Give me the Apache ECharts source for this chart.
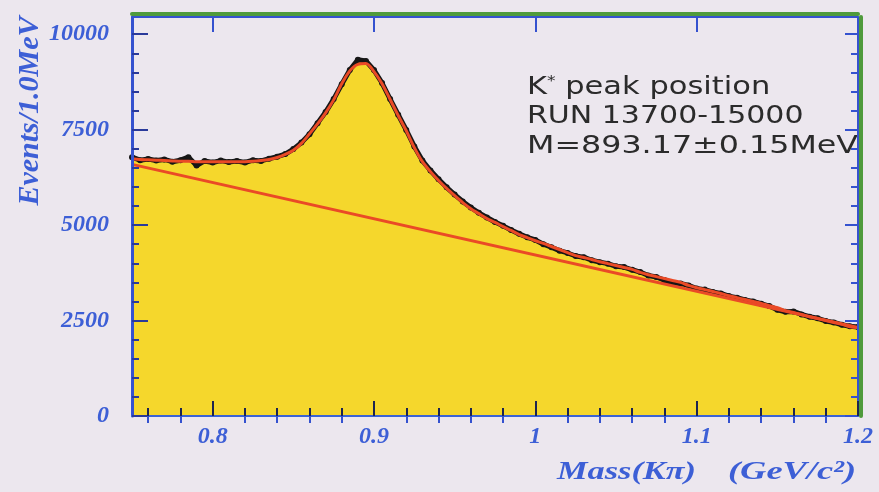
<!DOCTYPE html>
<html>
<head>
<meta charset="utf-8">
<script src="https://cdn.jsdelivr.net/npm/echarts@6/dist/echarts.min.js"></script>
<style>
  html, body { margin: 0; padding: 0; background: #ece7ee; }
  #chart { width: 879px; height: 492px; }
</style>
</head>
<body>
<div id="chart"></div>
<script>
// K pi invariant mass spectrum, 5 MeV sampling of the 1 MeV histogram (GeV/c^2)
const massBins = [
  0.750, 0.755, 0.760, 0.765, 0.770, 0.775, 0.780, 0.785, 0.790, 0.795,
  0.800, 0.805, 0.810, 0.815, 0.820, 0.825, 0.830, 0.835, 0.840, 0.845,
  0.850, 0.855, 0.860, 0.865, 0.870, 0.875, 0.880, 0.885, 0.890, 0.895,
  0.900, 0.905, 0.910, 0.915, 0.920, 0.925, 0.930, 0.935, 0.940, 0.945,
  0.950, 0.955, 0.960, 0.965, 0.970, 0.975, 0.980, 0.985, 0.990, 0.995,
  1.000, 1.005, 1.010, 1.015, 1.020, 1.025, 1.030, 1.035, 1.040, 1.045,
  1.050, 1.055, 1.060, 1.065, 1.070, 1.075, 1.080, 1.085, 1.090, 1.095,
  1.100, 1.105, 1.110, 1.115, 1.120, 1.125, 1.130, 1.135, 1.140, 1.145,
  1.150, 1.155, 1.160, 1.165, 1.170, 1.175, 1.180, 1.185, 1.190, 1.195,
  1.200
];

// Events per 1.0 MeV
const eventCounts = [
  6780, 6700, 6730, 6690, 6720, 6660, 6700, 6780, 6560, 6680,
  6640, 6690, 6650, 6680, 6640, 6700, 6680, 6740, 6790, 6860,
  6990, 7160, 7380, 7670, 7960, 8300, 8690, 9060, 9330, 9300,
  9060, 8720, 8300, 7890, 7490, 7060, 6690, 6430, 6200, 5990,
  5800, 5620, 5460, 5320, 5200, 5080, 4980, 4870, 4770, 4680,
  4610, 4500, 4420, 4330, 4270, 4190, 4160, 4080, 4030, 3990,
  3920, 3900, 3830, 3770, 3680, 3640, 3560, 3480, 3470, 3420,
  3340, 3310, 3250, 3210, 3140, 3100, 3040, 3000, 2940, 2880,
  2780, 2730, 2740, 2660, 2600, 2560, 2490, 2450, 2390, 2350,
  2330
];

// Total fit (resonance + linear background)
const fitTotal = [
  6740, 6720, 6710, 6700, 6690, 6680, 6670, 6670, 6660, 6660,
  6660, 6660, 6660, 6660, 6660, 6670, 6690, 6720, 6770, 6850,
  6960, 7140, 7390, 7650, 7940, 8280, 8700, 9040, 9210, 9230,
  9020, 8700, 8290, 7870, 7470, 7030, 6660, 6400, 6170, 5960,
  5770, 5590, 5430, 5300, 5170, 5070, 4960, 4860, 4750, 4670,
  4590, 4520, 4440, 4360, 4280, 4200, 4150, 4100, 4040, 3990,
  3940, 3890, 3840, 3760, 3700, 3650, 3600, 3550, 3500, 3420,
  3360, 3310, 3260, 3210, 3150, 3100, 3050, 3000, 2950, 2890,
  2840, 2760, 2710, 2660, 2600, 2550, 2500, 2450, 2400, 2340,
  2320
];

// Linear background of the fit, at the ends of the mass window
const bgMass = [0.75, 1.2];
const bgCounts = [6590, 2320];

// Axis ticks and labels
const xMajorTicks = [0.8, 0.9, 1.0, 1.1, 1.2];
const xMinorTicks = [0.76, 0.78, 0.82, 0.84, 0.86, 0.88, 0.92, 0.94, 0.96, 0.98,
                     1.02, 1.04, 1.06, 1.08, 1.12, 1.14, 1.16, 1.18];
const xTickLabels = ['0.8', '0.9', '1', '1.1', '1.2'];
const yMajorTicks = [0, 2500, 5000, 7500, 10000];
const yMinorTicks = [500, 1000, 1500, 2000, 3000, 3500, 4000, 4500, 5500, 6000,
                     6500, 7000, 8000, 8500, 9000, 9500];
const yTickLabels = ['0', '2500', '5000', '7500', '10000'];

const xRange = [0.75, 1.2];
const yRange = [0, 10450];

const BLUE_TEXT = '#3d5fd6';
const AXIS_BLUE = '#3552cf';
const FRAME_GREEN = '#4f9a3c';
const TICK_DARK = '#1d2550';
const labelFont = { fontFamily: 'Liberation Serif', fontStyle: 'italic', fontWeight: 'bold', fontSize: 24, color: BLUE_TEXT };

const pairs = (xs, ys) => xs.map((x, i) => [x, ys[i]]);

function xAxisDef(opts) {
  return Object.assign({
    type: 'value', min: xRange[0], max: xRange[1], gridIndex: 0, z: 10,
    splitLine: { show: false },
    axisLine: { show: false },
    axisTick: { show: false },
    axisLabel: { show: false }
  }, opts);
}
function yAxisDef(opts) {
  return Object.assign({
    type: 'value', min: yRange[0], max: yRange[1], gridIndex: 0, z: 10,
    splitLine: { show: false },
    axisLine: { show: false },
    axisTick: { show: false },
    axisLabel: { show: false }
  }, opts);
}

const chart = echarts.init(document.getElementById('chart'), null, { renderer: 'canvas' });

const option = {
  animation: false,
  backgroundColor: '#ece7ee',
  grid: { left: 132, right: 21, top: 17, bottom: 76, containLabel: false },
  xAxis: [
    // bottom axis with labels and major ticks
    xAxisDef({
      position: 'bottom',
      axisLine: { show: true, onZero: false, lineStyle: { color: '#3b63d3', width: 2 } },
      axisTick: { show: true, inside: true, length: 15, customValues: xMajorTicks, lineStyle: { color: TICK_DARK, width: 2 } },
      axisLabel: {
        show: true, margin: 9, customValues: xMajorTicks,
        formatter: v => xTickLabels[xMajorTicks.findIndex(t => Math.abs(t - v) < 1e-9)],
        ...labelFont
      }
    }),
    // bottom minor ticks
    xAxisDef({
      position: 'bottom',
      axisTick: { show: true, inside: true, length: 8, customValues: xMinorTicks, lineStyle: { color: TICK_DARK, width: 2 } }
    }),
    // top mirror axis
    xAxisDef({
      position: 'top',
      axisLine: { show: true, onZero: false, lineStyle: { color: AXIS_BLUE, width: 2 } },
      axisTick: { show: true, inside: true, length: 15, customValues: xMajorTicks, lineStyle: { color: AXIS_BLUE, width: 2 } }
    }),
    xAxisDef({
      position: 'top',
      axisTick: { show: true, inside: true, length: 7, customValues: xMinorTicks, lineStyle: { color: AXIS_BLUE, width: 2 } }
    }),
    // green frame edge above the top axis
    xAxisDef({
      position: 'top', offset: 3,
      axisLine: { show: true, onZero: false, lineStyle: { color: FRAME_GREEN, width: 4 } }
    })
  ],
  yAxis: [
    // left axis with labels and major ticks
    yAxisDef({
      position: 'left',
      axisLine: { show: true, onZero: false, lineStyle: { color: AXIS_BLUE, width: 3 } },
      axisTick: { show: true, inside: true, length: 16, customValues: yMajorTicks, lineStyle: { color: '#2a3a9a', width: 2 } },
      axisLabel: {
        show: true, margin: 23, customValues: yMajorTicks,
        formatter: v => yTickLabels[yMajorTicks.indexOf(v)],
        ...labelFont
      }
    }),
    yAxisDef({
      position: 'left',
      axisTick: { show: true, inside: true, length: 7, customValues: yMinorTicks, lineStyle: { color: '#2a3a9a', width: 2 } }
    }),
    // right mirror axis
    yAxisDef({
      position: 'right',
      axisLine: { show: true, onZero: false, lineStyle: { color: AXIS_BLUE, width: 2 } },
      axisTick: { show: true, inside: true, length: 13, customValues: yMajorTicks, lineStyle: { color: AXIS_BLUE, width: 2 } }
    }),
    yAxisDef({
      position: 'right',
      axisTick: { show: true, inside: true, length: 7, customValues: yMinorTicks, lineStyle: { color: AXIS_BLUE, width: 2 } }
    }),
    // green frame edge right of the right axis
    yAxisDef({
      position: 'right', offset: 3,
      axisLine: { show: true, onZero: false, lineStyle: { color: FRAME_GREEN, width: 4 } }
    })
  ],
  series: [
    {
      name: 'data',
      type: 'line',
      xAxisIndex: 0, yAxisIndex: 0,
      data: pairs(massBins, eventCounts),
      symbol: 'circle', symbolSize: 6, showSymbol: true,
      itemStyle: { color: '#161616' },
      lineStyle: { color: '#161616', width: 5 },
      areaStyle: { color: '#f5d72c', opacity: 1, origin: 'start' },
      z: 2
    },
    {
      name: 'background',
      type: 'line',
      xAxisIndex: 0, yAxisIndex: 0,
      data: pairs(bgMass, bgCounts),
      symbol: 'none',
      lineStyle: { color: '#ea4a26', width: 3 },
      z: 3
    },
    {
      name: 'fit',
      type: 'line',
      xAxisIndex: 0, yAxisIndex: 0,
      data: pairs(massBins, fitTotal),
      symbol: 'none', smooth: 0.3,
      lineStyle: { color: '#ea4a26', width: 3 },
      z: 4
    }
  ],
  graphic: [
    {
      type: 'text', x: 30, y: 111, rotation: Math.PI / 2,
      style: {
        text: 'Events/1.0MeV',
        font: 'italic bold 30px "Liberation Serif"',
        fill: BLUE_TEXT, align: 'center', verticalAlign: 'middle'
      }
    },
    {
      type: 'text', x: 557, y: 472, scaleX: 1.32,
      style: {
        text: 'Mass(Kπ)',
        font: 'italic bold 26px "Liberation Serif"',
        fill: BLUE_TEXT, align: 'left', verticalAlign: 'middle'
      }
    },
    {
      type: 'text', x: 728, y: 472, scaleX: 1.4,
      style: {
        text: '(GeV/c²)',
        font: 'italic bold 26px "Liberation Serif"',
        fill: BLUE_TEXT, align: 'left', verticalAlign: 'middle'
      }
    },
    {
      type: 'text', x: 527, y: 87, scaleX: 1.22,
      style: {
        text: '{b|K}{s|*}{b| peak position}',
        fill: '#2b2b2b', align: 'left', verticalAlign: 'middle',
        rich: {
          b: { font: '25px "DejaVu Sans"', fill: '#2b2b2b' },
          s: { font: '14px "DejaVu Sans"', fill: '#2b2b2b', padding: [0, 0, 12, 0] }
        }
      }
    },
    {
      type: 'text', x: 527, y: 116, scaleX: 1.2,
      style: {
        text: 'RUN 13700-15000',
        font: '25px "DejaVu Sans"',
        fill: '#2b2b2b', align: 'left', verticalAlign: 'middle'
      }
    },
    {
      type: 'text', x: 527, y: 146, scaleX: 1.27,
      style: {
        text: 'M=893.17±0.15MeV',
        font: '25px "DejaVu Sans"',
        fill: '#2b2b2b', align: 'left', verticalAlign: 'middle'
      }
    }
  ]
};

chart.setOption(option);
</script>
</body>
</html>
